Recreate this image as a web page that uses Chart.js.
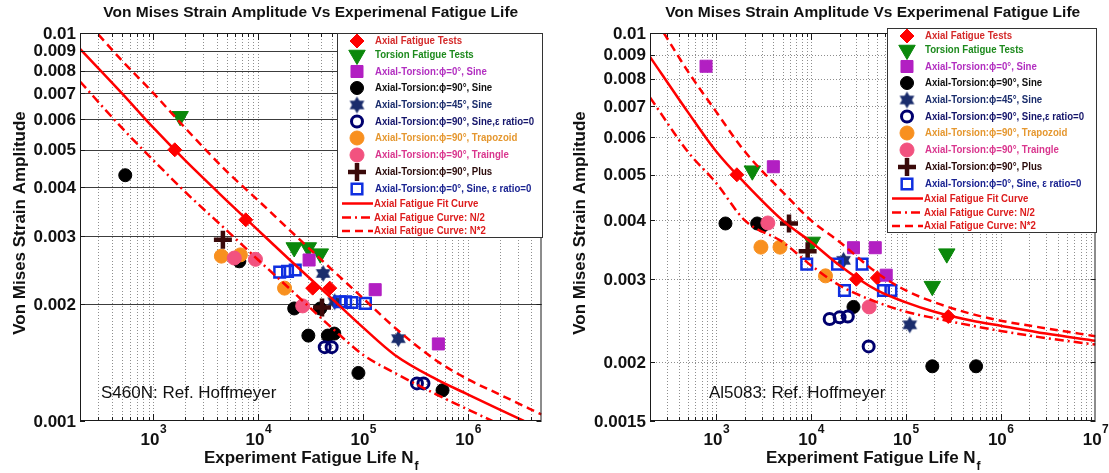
<!DOCTYPE html>
<html>
<head>
<meta charset="utf-8">
<script src="https://cdn.jsdelivr.net/npm/chart.js@4/dist/chart.umd.min.js"></script>
<style>
  html, body { margin: 0; padding: 0; background: #fff; }
  #wrap { position: relative; width: 1109px; height: 473px; overflow: hidden; }
  canvas { position: absolute; top: 0; }
  #left { left: 0; }
  #right { left: 555px; }
</style>
</head>
<body>
<div id="wrap">
  <canvas id="left" width="555" height="473"></canvas>
  <canvas id="right" width="554" height="473"></canvas>
</div>
<script>
// [fatigue life N, von Mises strain amplitude]

// S460N (left panel)
const s460Axial = [[1600, 0.0050], [7600, 0.0033], [33000, 0.0022], [48000, 0.0022]];
const s460Torsion = [[1800, 0.0061], [22000, 0.0028], [30000, 0.0028], [39000, 0.0027]];
const s460Phase0 = [[30500, 0.0026], [130000, 0.00218], [520000, 0.00158]];
const s460Phase90 = [[540, 0.0043], [6600, 0.00258], [22000, 0.00195], [39000, 0.00195], [30000, 0.00166],
                     [46000, 0.00166], [53000, 0.00168], [90000, 0.00133], [570000, 0.0012]];
const s460Phase45 = [[41500, 0.0024], [53500, 0.00203], [216000, 0.00163]];
const s460Phase90R0 = [[43000, 0.00155], [50000, 0.00155], [325000, 0.00125], [375000, 0.00125]];
const s460Trapezoid = [[4450, 0.00266], [6750, 0.00268], [17800, 0.0022]];
const s460Triangle = [[5900, 0.00263], [9400, 0.00261], [26500, 0.00198]];
const s460Plus = [[4600, 0.00293], [40500, 0.00196]];
const s460Phase0R0 = [[16000, 0.00242], [19000, 0.00243], [22500, 0.00245], [60000, 0.00203],
                      [68000, 0.00203], [78000, 0.00202], [105000, 0.00201]];
const s460Fit = [[200, 0.0091], [500, 0.0070], [1000, 0.0057], [2000, 0.0047], [5000, 0.0037], [10000, 0.0031],
                 [20000, 0.0026], [50000, 0.00207], [100000, 0.00174], [200000, 0.00148], [500000, 0.00128],
                 [1000000, 0.00117], [2000000, 0.00107], [3400000, 0.0010]];
const s460Half = [[200, 0.0075], [500, 0.0057], [1000, 0.0047], [2000, 0.0039], [5000, 0.0031], [10000, 0.0026],
                  [20000, 0.00219], [50000, 0.00174], [100000, 0.00148], [200000, 0.00133], [500000, 0.00117],
                  [1000000, 0.00107], [1700000, 0.0010]];
const s460Double = [[300, 0.0099], [500, 0.0085], [1000, 0.0070], [2000, 0.0057], [5000, 0.0044], [10000, 0.0037],
                    [20000, 0.0031], [50000, 0.00246], [100000, 0.00207], [200000, 0.00174], [500000, 0.00143],
                    [1000000, 0.00128], [2000000, 0.00117], [5000000, 0.00104]];

// Al5083 (right panel)
const alAxial = [[1650, 0.0050], [30000, 0.0030], [50000, 0.00302], [280000, 0.0025]];
const alTorsion = [[2400, 0.0051], [10300, 0.0036], [190000, 0.0029], [270000, 0.0034]];
const alPhase0 = [[780, 0.0085], [4000, 0.0052], [28000, 0.0035], [47500, 0.0035], [62000, 0.00306]];
const alPhase90 = [[1250, 0.00394], [2700, 0.00394], [3100, 0.0039], [28000, 0.00262], [190000, 0.00196], [550000, 0.00196]];
const alPhase45 = [[22000, 0.00329], [110000, 0.0024]];
const alPhase90R0 = [[15700, 0.00247], [20000, 0.00249], [24400, 0.0025], [40500, 0.00216]];
const alTrapezoid = [[2960, 0.00351], [4700, 0.00351], [14200, 0.00305]];
const alTriangle = [[3500, 0.00395], [41000, 0.00262]];
const alPlus = [[5850, 0.00394], [9200, 0.00344]];
const alPhase0R0 = [[9000, 0.00323], [19000, 0.00323], [34500, 0.00323], [22500, 0.00284], [58000, 0.00284], [69500, 0.00284]];
const alFit = [[200, 0.0089], [500, 0.0068], [1000, 0.0056], [2000, 0.0048], [5000, 0.0040], [10000, 0.0036],
               [20000, 0.00321], [50000, 0.00284], [100000, 0.00268], [200000, 0.00256], [500000, 0.00245],
               [1000000, 0.00239], [3000000, 0.0023], [10000000, 0.00222]];
const alHalf = [[200, 0.0073], [500, 0.0056], [1000, 0.0048], [2000, 0.0040], [5000, 0.0036], [10000, 0.00321],
                [20000, 0.00291], [50000, 0.00268], [100000, 0.00256], [200000, 0.00248], [500000, 0.00239],
                [1000000, 0.00233], [3000000, 0.00225], [10000000, 0.00218]];
const alDouble = [[280, 0.0100], [500, 0.0083], [1000, 0.0068], [2000, 0.0056], [5000, 0.0046], [10000, 0.0040],
                  [20000, 0.0036], [50000, 0.00309], [100000, 0.00284], [200000, 0.00268], [500000, 0.00253],
                  [1000000, 0.00245], [3000000, 0.00236], [10000000, 0.00227]];

// legend labels, same order in both panels
const seriesLabels = [
  'Axial Fatigue Tests', 'Torsion Fatigue Tests', 'Axial-Torsion:ϕ=0°, Sine', 'Axial-Torsion:ϕ=90°, Sine',
  'Axial-Torsion:ϕ=45°, Sine', 'Axial-Torsion:ϕ=90°, Sine,ε ratio=0', 'Axial-Torsion:ϕ=90°, Trapozoid',
  'Axial-Torsion:ϕ=90°, Traingle', 'Axial-Torsion:ϕ=90°, Plus', 'Axial-Torsion:ϕ=0°, Sine, ε ratio=0',
  'Axial Fatigue Fit Curve', 'Axial Fatigue Curve: N/2', 'Axial Fatigue Curve: N*2'
];

// axis ticks
const leftYTicks = [0.001, 0.002, 0.003, 0.004, 0.005, 0.006, 0.007, 0.008, 0.009, 0.01];
const leftYLabels = ['0.001', '0.002', '0.003', '0.004', '0.005', '0.006', '0.007', '0.008', '0.009', '0.01'];
const rightYTicks = [0.0015, 0.002, 0.003, 0.004, 0.005, 0.006, 0.007, 0.008, 0.009, 0.01];
const rightYLabels = ['0.0015', '0.002', '0.003', '0.004', '0.005', '0.006', '0.007', '0.008', '0.009', '0.01'];
const leftDecades = [3, 4, 5, 6];
const rightDecades = [3, 4, 5, 6, 7];

const FONT = 'Arial, "Liberation Sans", Helvetica, sans-serif';
const RED = '#ff0000';

function makeStar(r, color) {
  const c = document.createElement('canvas');
  const s = Math.ceil(r * 2 + 2);
  c.width = s; c.height = s;
  const g = c.getContext('2d');
  g.fillStyle = color;
  [-Math.PI / 2, Math.PI / 2].forEach(off => {
    g.beginPath();
    for (let k = 0; k < 3; k++) {
      const t = off + k * 2 * Math.PI / 3;
      g.lineTo(s / 2 + r * Math.cos(t), s / 2 + r * Math.sin(t));
    }
    g.closePath();
    g.fill();
  });
  return c;
}

// marker look for the ten test series
const markerStyles = [
  { style: 'rectRot', r: 7, fill: '#ff0000', stroke: '#ff0000', bw: 1, text: '#d42a2a' },
  { style: 'triangle', r: 9.5, rot: 180, fill: '#0b880b', stroke: '#0b880b', bw: 1, text: '#1d8a1d' },
  { style: 'rect', r: 8.5, fill: '#b21fc2', stroke: '#b21fc2', bw: 1, text: '#b22fc0' },
  { style: 'circle', r: 6.5, fill: '#000000', stroke: '#000000', bw: 1, text: '#111111' },
  { style: makeStar(8.5, '#1b2d6c'), r: 8, fill: '#1b2d6c', stroke: '#1b2d6c', bw: 0, text: '#1b2d6c' },
  { style: 'circle', r: 5.5, fill: 'rgba(255,255,255,0)', stroke: '#00006e', bw: 3, text: '#14146a' },
  { style: 'circle', r: 7, fill: '#f8901f', stroke: '#f8901f', bw: 1, text: '#e5972f' },
  { style: 'circle', r: 7, fill: '#f2527f', stroke: '#f2527f', bw: 1, text: '#d9368e' },
  { style: 'cross', r: 9, fill: '#3a0a0a', stroke: '#3a0a0a', bw: 4.5, text: '#2a0a0a' },
  { style: 'rect', r: 7.5, fill: 'rgba(255,255,255,0)', stroke: '#0f2fe0', bw: 2.5, text: '#1a2391' }
];
const curveStyles = [
  { dash: [], text: '#dd1c1c' },
  { dash: [9, 4, 2, 4], text: '#dd1c1c' },
  { dash: [8, 5], text: '#dd1c1c' }
];

function toXY(arr) { return arr.map(p => ({ x: p[0], y: p[1] })); }

function buildDatasets(markers, curves) {
  const sets = [];
  curves.forEach((c, i) => {
    sets.push({
      label: seriesLabels[10 + i], data: toXY(c), showLine: true, pointRadius: 0,
      borderColor: RED, backgroundColor: RED, borderWidth: 2.5, borderDash: curveStyles[i].dash,
      cubicInterpolationMode: 'monotone', fill: false, order: 0
    });
  });
  markers.forEach((m, i) => {
    const st = markerStyles[i];
    sets.push({
      label: seriesLabels[i], data: toXY(m), showLine: false,
      pointStyle: st.style, pointRadius: st.r, pointRotation: st.rot || 0,
      pointBackgroundColor: st.fill, pointBorderColor: st.stroke, pointBorderWidth: st.bw,
      backgroundColor: st.fill, borderColor: st.stroke, order: 20 - i
    });
  });
  return sets;
}

const panels = {
  left: {
    xMin: 200, xMax: 5e6, yMin: 0.001, yMax: 0.01, yTicks: leftYTicks, yLabels: leftYLabels,
    decades: leftDecades, solidY: true, yTitleX: 20,
    note: 'S460N: Ref. Hoffmeyer', noteX: 101, noteY: 393,
    legend: { x: 337, y: 33, w: 206, h: 205 }
  },
  right: {
    xMin: 200, xMax: 1e7, yMin: 0.0015, yMax: 0.01, yTicks: rightYTicks, yLabels: rightYLabels,
    decades: rightDecades, solidY: false, yTitleX: 25,
    note: 'Al5083: Ref. Hoffmeyer', noteX: 154, noteY: 393,
    legend: { x: 332, y: 28, w: 210, h: 205 }
  }
};
const legendRows = [8, 22, 38.5, 55, 72, 88.5, 105, 122, 139, 156, 170.5, 184.5, 198];

function minorValues(lo, hi) {
  const out = [];
  for (let e = 2; e <= 7; e++) {
    for (let m = 1; m <= 9; m++) {
      const v = m * Math.pow(10, e);
      if (v > lo * 1.0001 && v < hi * 0.9999) out.push(v);
    }
  }
  return out;
}

function seg(ctx, x1, y1, x2, y2) {
  ctx.beginPath(); ctx.moveTo(x1, y1); ctx.lineTo(x2, y2); ctx.stroke();
}

function txt(ctx, s, x, y, font, color, align, sx) {
  sx = sx || 1;
  ctx.save();
  ctx.font = font;
  ctx.fillStyle = color;
  ctx.textBaseline = 'middle';
  ctx.textAlign = 'left';
  const w = ctx.measureText(s).width * sx;
  const x0 = align === 'center' ? x - w / 2 : align === 'right' ? x - w : x;
  ctx.translate(x0, y);
  ctx.scale(sx, 1);
  ctx.fillText(s, 0, 0);
  ctx.restore();
  return w;
}

const decor = {
  id: 'decor',
  beforeDatasetsDraw(chart) {
    const p = panels[chart.canvas.id];
    const { ctx, chartArea: a } = chart;
    const x = chart.scales.x, y = chart.scales.y;
    ctx.save();
    ctx.lineWidth = 1;
    ctx.strokeStyle = '#8e8e8e';
    ctx.setLineDash([1, 2]);
    minorValues(p.xMin, p.xMax).forEach(v => {
      const px = Math.round(x.getPixelForValue(v)) + 0.5;
      seg(ctx, px, a.top, px, a.bottom);
    });
    if (p.solidY) {
      ctx.setLineDash([]);
      ctx.strokeStyle = '#3c3c3c';
    }
    p.yTicks.forEach(v => {
      if (v <= p.yMin || v >= p.yMax) return;
      const py = Math.round(y.getPixelForValue(v)) + 0.5;
      seg(ctx, a.left, py, a.right, py);
    });
    ctx.restore();
  },
  afterDraw(chart) {
    const p = panels[chart.canvas.id];
    const { ctx, chartArea: a } = chart;
    const x = chart.scales.x, y = chart.scales.y;
    ctx.save();
    // frame and inner tick marks
    ctx.strokeStyle = '#1a1a1a';
    ctx.lineWidth = 1;
    ctx.strokeRect(a.left + 0.5, a.top + 0.5, a.right - a.left - 1, a.bottom - a.top - 1);
    minorValues(p.xMin, p.xMax).forEach(v => {
      const px = Math.round(x.getPixelForValue(v)) + 0.5;
      const major = Math.abs(Math.log10(v) - Math.round(Math.log10(v))) < 1e-9;
      const len = major ? 7 : 4;
      seg(ctx, px, a.bottom, px, a.bottom - len);
      seg(ctx, px, a.top, px, a.top + len);
    });
    p.yTicks.forEach(v => {
      const py = Math.round(y.getPixelForValue(v)) + 0.5;
      seg(ctx, a.left, py, a.left + 5, py);
      seg(ctx, a.right, py, a.right - 5, py);
    });
    ctx.restore();

    // y tick labels
    p.yTicks.forEach((v, i) => {
      txt(ctx, p.yLabels[i], a.left - 4, y.getPixelForValue(v) + 1, 'bold 17px ' + FONT, '#111', 'right');
    });
    // x tick labels 10^k
    p.decades.forEach(k => {
      const px = x.getPixelForValue(Math.pow(10, k));
      ctx.font = 'bold 17px ' + FONT;
      const wb = ctx.measureText('10').width;
      ctx.font = 'bold 12px ' + FONT;
      const we = ctx.measureText(String(k)).width;
      const x0 = px - (wb + we) / 2;
      txt(ctx, '10', x0, 440, 'bold 17px ' + FONT, '#111', 'left');
      txt(ctx, String(k), x0 + wb + 0.5, 430, 'bold 12px ' + FONT, '#111', 'left');
    });
    // x title with subscript
    const cx = (a.left + a.right) / 2;
    ctx.font = 'bold 17px ' + FONT;
    const wMain = ctx.measureText('Experiment Fatigue Life N').width;
    ctx.font = 'bold 12px ' + FONT;
    const wSub = ctx.measureText('f').width;
    const tx = cx - (wMain + wSub) / 2;
    txt(ctx, 'Experiment Fatigue Life N', tx, 458, 'bold 17px ' + FONT, '#111', 'left');
    txt(ctx, 'f', tx + wMain + 1, 467, 'bold 12px ' + FONT, '#111', 'left');
    // y title
    ctx.save();
    ctx.translate(p.yTitleX, (a.top + a.bottom) / 2 - 4);
    ctx.rotate(-Math.PI / 2);
    txt(ctx, 'Von Mises Strain Amplitude', 0, 0, 'bold 17px ' + FONT, '#111', 'center');
    ctx.restore();
    // title
    txt(ctx, 'Von Mises Strain Amplitude Vs Experimenal Fatigue Life', cx, 13, 'bold 15.5px ' + FONT, '#111', 'center');
    // material note
    txt(ctx, p.note, p.noteX, p.noteY, '17px ' + FONT, '#111', 'left');

    // legend
    const L = p.legend;
    ctx.save();
    ctx.fillStyle = '#fff';
    ctx.fillRect(L.x, L.y, L.w, L.h);
    ctx.strokeStyle = '#333';
    ctx.lineWidth = 1;
    ctx.strokeRect(L.x + 0.5, L.y + 0.5, L.w - 1, L.h - 1);
    ctx.restore();
    const lf = 'bold 10px ' + FONT;
    ctx.font = lf;
    const sx = 159 / ctx.measureText(seriesLabels[5]).width;
    const drawPoint = Chart.helpers && Chart.helpers.drawPoint;
    seriesLabels.forEach((lab, i) => {
      const ry = L.y + legendRows[i];
      if (i < 10) {
        const st = markerStyles[i];
        ctx.save();
        ctx.fillStyle = st.fill === 'rgba(255,255,255,0)' ? '#fff' : st.fill;
        ctx.strokeStyle = st.stroke;
        ctx.lineWidth = st.bw;
        if (drawPoint) {
          drawPoint(ctx, { pointStyle: st.style, rotation: st.rot || 0, radius: st.r, borderWidth: st.bw }, L.x + 20, ry);
        }
        ctx.restore();
        txt(ctx, lab, L.x + 38, ry + 0.5, lf, st.text, 'left', sx);
      } else {
        const cs = curveStyles[i - 10];
        ctx.save();
        ctx.strokeStyle = RED;
        ctx.lineWidth = 2.5;
        ctx.setLineDash(cs.dash);
        seg(ctx, L.x + 5, ry, L.x + 36, ry);
        ctx.restore();
        txt(ctx, lab, L.x + 37, ry + 0.5, lf, cs.text, 'left', sx);
      }
    });
  }
};

function makeChart(id, markers, curves, padRight, yWidth) {
  const p = panels[id];
  return new Chart(document.getElementById(id), {
    type: 'scatter',
    data: { datasets: buildDatasets(markers, curves) },
    options: {
      responsive: false,
      animation: false,
      devicePixelRatio: 1,
      events: [],
      layout: { padding: { left: 0, top: 33, right: padRight, bottom: 0 } },
      plugins: { legend: { display: false }, tooltip: { enabled: false }, title: { display: false } },
      scales: {
        x: {
          type: 'logarithmic', min: p.xMin, max: p.xMax,
          ticks: { display: false }, grid: { display: false }, border: { display: false },
          afterFit: s => { s.height = 52; }
        },
        y: {
          type: 'logarithmic', min: p.yMin, max: p.yMax,
          ticks: { display: false }, grid: { display: false }, border: { display: false },
          afterFit: s => { s.width = yWidth; }
        }
      }
    },
    plugins: [decor]
  });
}

makeChart('left',
  [s460Axial, s460Torsion, s460Phase0, s460Phase90, s460Phase45, s460Phase90R0, s460Trapezoid, s460Triangle, s460Plus, s460Phase0R0],
  [s460Fit, s460Half, s460Double], 7, 80);
makeChart('right',
  [alAxial, alTorsion, alPhase0, alPhase90, alPhase45, alPhase90R0, alTrapezoid, alTriangle, alPlus, alPhase0R0],
  [alFit, alHalf, alDouble], 12, 95);
</script>
</body>
</html>
